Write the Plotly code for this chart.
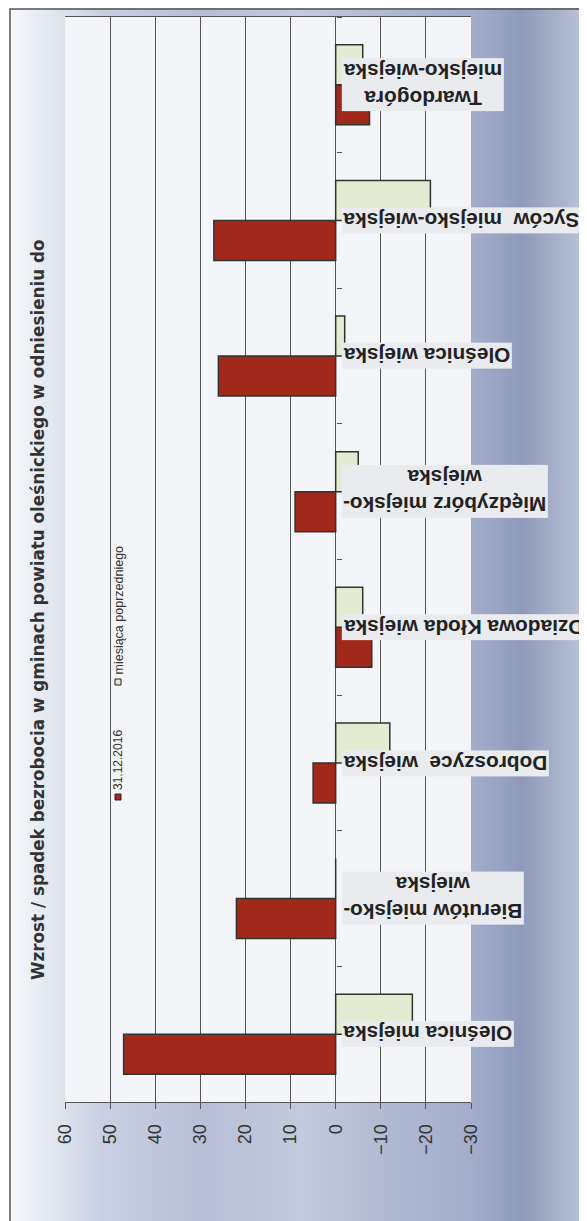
import plotly.graph_objects as go

# ---------------- data ----------------
categories = ["Oleśnica miejska", "Bierutów miejsko-wiejska", "Dobroszyce wiejska",
              "Dziadowa Kłoda wiejska", "Międzybórz miejsko-wiejska", "Oleśnica wiejska",
              "Syców miejsko-wiejska", "Twardogóra miejsko-wiejska"]
label_texts = ["Oleśnica miejska", "Bierutów miejsko-<br>wiejska", "Dobroszyce  wiejska",
               "Dziadowa Kłoda wiejska", "Międzybórz miejsko-<br>wiejska", "Oleśnica wiejska",
               "Syców  miejsko-wiejska", "Twardogóra<br>miejsko-wiejska"]
series_names = ["31.12.2016", "miesiąca poprzedniego"]
values_2016 = [47, 22, 5, -8, 9, 26, 27, -7.5]
values_prev = [-17, 0, -12, -6, -5, -2, -21, -6]
tick_vals = [60, 50, 40, 30, 20, 10, 0, -10, -20, -30]
title_text = "Wzrost / spadek bezrobocia w gminach powiatu oleśnickiego w odniesieniu do"

# ---------------- layout geometry (page pixels) ----------------
OFF = 8                     # default body margin of the html page
PW, PH = 587, 1221
L, R, T, B = 65, 471, 17, 1102


def px2x(px):
    return (px - L) / (R - L)


def px2y(py):
    return (B - py) / (B - T)


def hex2rgb(h):
    h = h.lstrip('#')
    return tuple(int(h[i:i + 2], 16) for i in (0, 2, 4))


def lerp_color(c1, c2, t):
    a, b = hex2rgb(c1), hex2rgb(c2)
    return 'rgb(%d,%d,%d)' % tuple(round(a[i] + (b[i] - a[i]) * t) for i in range(3))


red = '#a3281c'
green = '#e3ecd3'
outline = '#2e352e'
FONT = 'Liberation Sans, Arial'

fig = go.Figure()
fig.add_trace(go.Bar(y=categories, x=values_2016, orientation='h', name=series_names[0],
                     marker=dict(color=red, line=dict(color=outline, width=1.5))))
fig.add_trace(go.Bar(y=categories, x=values_prev, orientation='h', name=series_names[1],
                     marker=dict(color=green, line=dict(color=outline, width=1.5))))

# background gradient bands (decoration)
stops = [(10, '#f5f7fa'), (45, '#e4e9f1'), (100, '#c9d0e2'), (200, '#b6bfd7'),
         (300, '#c2cadd'), (400, '#aeb7d1'), (471, '#a3adcb'), (520, '#8f9aba'), (590, '#c0c8db')]
shapes = []
step = 4
for i in range(len(stops) - 1):
    x0, c0 = stops[i]
    x1, c1 = stops[i + 1]
    p = x0
    while p < x1:
        q = min(p + step, x1)
        col = lerp_color(c0, c1, (p - x0) / (x1 - x0))
        shapes.append(dict(type='rect', xref='paper', yref='paper', layer='below',
                           x0=px2x(p), x1=px2x(q + 0.5), y0=px2y(5), y1=px2y(1240),
                           fillcolor=col, line=dict(width=0)))
        p = q
# outer frame
shapes.append(dict(type='rect', xref='paper', yref='paper', layer='below',
                   x0=px2x(10), x1=px2x(600), y0=px2y(1240), y1=px2y(9),
                   fillcolor='rgba(0,0,0,0)', line=dict(color='#555', width=1.5)))
# plot area background
shapes.append(dict(type='rect', xref='paper', yref='paper', layer='below',
                   x0=0, x1=1, y0=0, y1=1, fillcolor='#f4f5f8', line=dict(width=0)))
# legend markers
shapes.append(dict(type='rect', xref='paper', yref='paper',
                   x0=px2x(115), x1=px2x(121), y0=px2y(800), y1=px2y(794),
                   fillcolor=red, line=dict(color='#222', width=1)))
shapes.append(dict(type='rect', xref='paper', yref='paper',
                   x0=px2x(115), x1=px2x(121), y0=px2y(685), y1=px2y(679),
                   fillcolor=green, line=dict(color='#222', width=1)))

annotations = []
# title
annotations.append(dict(text="<b>" + title_text + "</b>", xref='paper', yref='paper',
                        x=px2x(38), y=px2y(610), xanchor='center', yanchor='middle',
                        textangle=-90, showarrow=False,
                        font=dict(family='DejaVu Sans', size=16.8, color='#333')))
# legend texts
annotations.append(dict(text=series_names[0], xref='paper', yref='paper',
                        x=px2x(118), y=px2y(792), xanchor='center', yanchor='bottom',
                        textangle=-90, showarrow=False,
                        font=dict(family=FONT, size=12, color='#333')))
annotations.append(dict(text=series_names[1], xref='paper', yref='paper',
                        x=px2x(118), y=px2y(677), xanchor='center', yanchor='bottom',
                        textangle=-90, showarrow=False,
                        font=dict(family=FONT, size=12.5, color='#333')))
# category labels (upside down)
for cat, txt in zip(categories, label_texts):
    annotations.append(dict(text="<b>" + txt + "</b>", xref='x', yref='y', x=0, y=cat,
                            xanchor='left', yanchor='middle', xshift=6, yshift=0,
                            textangle=180, showarrow=False, bgcolor='#e9ebef', borderpad=1,
                            font=dict(family=FONT, size=20.8, color='#222')))

fig.update_layout(
    width=PW - OFF, height=PH - OFF,
    margin=dict(l=L - OFF, r=PW - R, t=T - OFF, b=PH - B),
    paper_bgcolor='white', plot_bgcolor='rgba(0,0,0,0)',
    barmode='group', bargap=0.41, bargroupgap=0,
    showlegend=False,
    shapes=shapes, annotations=annotations,
    xaxis=dict(range=[60, -30], tickvals=tick_vals, tickangle=-90,
               showgrid=True, gridcolor='#555', gridwidth=1,
               zeroline=True, zerolinecolor='#555', zerolinewidth=1,
               showline=True, linecolor='#555', mirror=True,
               ticks='outside', ticklen=6, tickcolor='#555', ticklabelstandoff=8,
               tickfont=dict(family=FONT, size=18, color='#333')),
    yaxis=dict(categoryorder='array', categoryarray=categories,
               showticklabels=False, showgrid=False, zeroline=False,
               anchor='free', position=px2x(336), side='right',
               ticks='outside', tickson='boundaries', ticklen=5, tickcolor='#555',
               showline=False),
)

fig.write_html("out.html")
